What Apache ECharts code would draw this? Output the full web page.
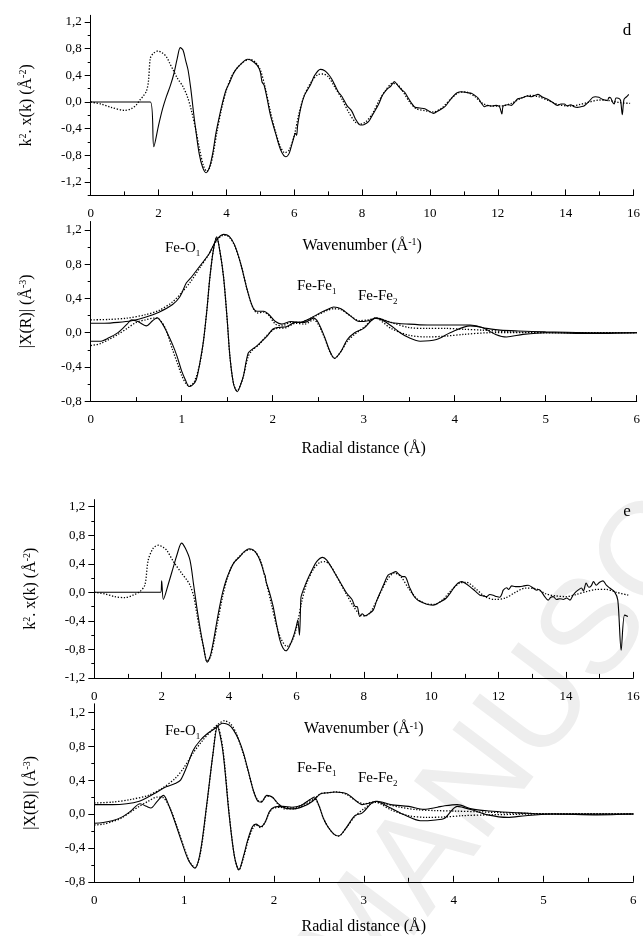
<!DOCTYPE html>
<html><head><meta charset="utf-8">
<script src="https://cdn.jsdelivr.net/npm/echarts@6/dist/echarts.min.js"></script>
<style>html,body{margin:0;padding:0;background:#fff}#c{width:643px;height:936px}</style>
</head><body><div id="c"></div>
<script>
// ---------- panel d : k-space ----------
const kD_exp = [[0,0],[1.76,0],[1.86,-0.67],[2.0,-0.35],[2.12,-0.1],[2.23,0.08],[2.35,0.25],[2.45,0.42],[2.55,0.65],[2.64,0.815],[2.72,0.78],[2.8,0.62],[2.87,0.48],[2.95,0.2],[3.03,-0.15],[3.11,-0.47],[3.2,-0.78],[3.3,-0.98],[3.4,-1.06],[3.5,-0.98],[3.6,-0.76],[3.69,-0.47],[3.8,-0.2],[3.9,0.02],[3.99,0.18],[4.1,0.3],[4.2,0.42],[4.3,0.5],[4.45,0.58],[4.62,0.64],[4.75,0.62],[4.91,0.55],[5.0,0.45],[5.05,0.3],[5.11,0.255],[5.2,0.05],[5.3,-0.2],[5.45,-0.47],[5.6,-0.72],[5.75,-0.82],[5.85,-0.77],[5.95,-0.6],[6.04,-0.47],[6.07,-0.5],[6.1,-0.35],[6.2,-0.07],[6.3,0.1],[6.48,0.26],[6.6,0.4],[6.77,0.49],[6.9,0.47],[7.0,0.42],[7.1,0.35],[7.2,0.25],[7.3,0.15],[7.41,0.08],[7.55,-0.05],[7.7,-0.14],[7.8,-0.25],[7.95,-0.345],[8.05,-0.34],[8.19,-0.295],[8.3,-0.2],[8.49,-0.03],[8.6,0.1],[8.73,0.19],[8.85,0.24],[8.95,0.305],[9.05,0.25],[9.17,0.18],[9.25,0.15],[9.36,0.06],[9.46,-0.02],[9.56,-0.08],[9.7,-0.09],[9.85,-0.1],[9.95,-0.13],[10.1,-0.17],[10.25,-0.13],[10.44,-0.07],[10.55,0.0],[10.69,0.09],[10.8,0.14],[10.93,0.155],[11.1,0.14],[11.22,0.13],[11.32,0.1],[11.42,0.06],[11.52,-0.02],[11.61,-0.07],[11.7,-0.05],[11.81,-0.06],[11.95,-0.05],[12.05,-0.07],[12.12,-0.18],[12.16,-0.06],[12.3,-0.04],[12.4,-0.05],[12.5,0.0],[12.59,0.05],[12.7,0.06],[12.88,0.09],[13.0,0.08],[13.1,0.1],[13.18,0.115],[13.3,0.08],[13.47,0.04],[13.6,0.0],[13.76,-0.05],[13.86,-0.03],[13.96,-0.03],[14.05,-0.06],[14.15,-0.04],[14.25,-0.07],[14.35,-0.08],[14.45,-0.07],[14.54,-0.06],[14.69,0.01],[14.8,0.07],[14.88,0.08],[14.98,0.07],[15.08,0.04],[15.15,0.03],[15.23,0.02],[15.28,0.07],[15.33,0.06],[15.38,0.0],[15.43,-0.03],[15.48,0.06],[15.52,0.06],[15.58,0.05],[15.62,0.02],[15.67,-0.19],[15.72,0.04],[15.8,0.08],[15.86,0.115]];
const kD_fit = [[0,0],[0.3,-0.03],[0.6,-0.08],[1.0,-0.125],[1.2,-0.1],[1.35,-0.04],[1.45,0.03],[1.55,0.09],[1.64,0.16],[1.7,0.3],[1.76,0.66],[1.85,0.73],[1.98,0.765],[2.1,0.74],[2.23,0.68],[2.33,0.58],[2.43,0.48],[2.55,0.36],[2.72,0.23],[2.85,0.08],[2.96,-0.11],[3.1,-0.42],[3.21,-0.71],[3.32,-0.95],[3.42,-1.04],[3.52,-0.97],[3.62,-0.75],[3.72,-0.45],[3.85,-0.12],[4.0,0.18],[4.15,0.38],[4.3,0.5],[4.5,0.6],[4.7,0.64],[4.85,0.6],[5.0,0.48],[5.15,0.2],[5.3,-0.15],[5.45,-0.45],[5.6,-0.68],[5.72,-0.76],[5.85,-0.72],[6.0,-0.5],[6.15,-0.15],[6.3,0.1],[6.5,0.3],[6.7,0.41],[6.85,0.42],[7.0,0.38],[7.2,0.22],[7.4,0.05],[7.6,-0.15],[7.8,-0.3],[7.95,-0.33],[8.1,-0.3],[8.3,-0.18],[8.5,0.02],[8.7,0.18],[8.9,0.28],[9.05,0.26],[9.2,0.16],[9.4,0.0],[9.6,-0.1],[9.85,-0.13],[10.1,-0.15],[10.35,-0.09],[10.6,0.04],[10.85,0.14],[11.05,0.15],[11.3,0.09],[11.55,-0.02],[11.8,-0.06],[12.1,-0.06],[12.4,-0.02],[12.7,0.06],[12.95,0.1],[13.2,0.08],[13.5,0.02],[13.8,-0.04],[14.1,-0.06],[14.4,-0.04],[14.7,0.0],[15.0,0.03],[15.3,0.02],[15.6,-0.01],[15.9,-0.02]];
// ---------- panel d : R-space ----------
const rD_magExp = [[0,0.11],[0.15,0.11],[0.3,0.12],[0.45,0.14],[0.6,0.18],[0.75,0.24],[0.9,0.33],[0.98,0.42],[1.05,0.58],[1.1,0.64],[1.2,0.78],[1.3,0.92],[1.38,1.08],[1.46,1.15],[1.52,1.13],[1.58,1.03],[1.65,0.8],[1.72,0.5],[1.78,0.3],[1.83,0.25],[1.9,0.25],[1.96,0.21],[2.03,0.13],[2.1,0.1],[2.2,0.13],[2.3,0.12],[2.4,0.16],[2.5,0.22],[2.6,0.27],[2.67,0.3],[2.75,0.28],[2.85,0.2],[2.95,0.13],[3.05,0.14],[3.14,0.17],[3.3,0.12],[3.5,0.1],[3.7,0.09],[3.9,0.09],[4.05,0.09],[4.17,0.09],[4.35,0.05],[4.5,0.03],[4.7,0.02],[5.0,0.01],[5.5,0.0],[6.0,0.0]];
const rD_magFit = [[0,0.15],[0.2,0.155],[0.4,0.17],[0.6,0.21],[0.75,0.26],[0.9,0.36],[1.0,0.47],[1.1,0.6],[1.2,0.76],[1.3,0.92],[1.38,1.07],[1.46,1.14],[1.52,1.12],[1.58,1.02],[1.65,0.8],[1.72,0.5],[1.78,0.3],[1.83,0.23],[1.9,0.24],[1.96,0.2],[2.03,0.1],[2.1,0.08],[2.2,0.12],[2.3,0.12],[2.4,0.16],[2.5,0.21],[2.6,0.26],[2.67,0.28],[2.75,0.27],[2.85,0.2],[2.95,0.14],[3.05,0.15],[3.14,0.17],[3.3,0.12],[3.5,0.06],[3.7,0.05],[3.9,0.05],[4.1,0.04],[4.3,0.03],[4.6,0.01],[5.0,0.0],[6.0,0.0]];
const rD_imExp = [[0,-0.1],[0.1,-0.1],[0.2,-0.06],[0.3,0.0],[0.4,0.1],[0.45,0.15],[0.52,0.13],[0.61,0.08],[0.68,0.14],[0.73,0.175],[0.79,0.1],[0.84,0.0],[0.9,-0.14],[0.95,-0.28],[1.0,-0.45],[1.04,-0.55],[1.08,-0.63],[1.12,-0.61],[1.16,-0.55],[1.2,-0.35],[1.24,-0.09],[1.28,0.3],[1.31,0.65],[1.35,0.98],[1.385,1.12],[1.42,0.95],[1.46,0.65],[1.5,0.15],[1.53,-0.28],[1.57,-0.6],[1.61,-0.69],[1.65,-0.6],[1.68,-0.5],[1.73,-0.24],[1.78,-0.19],[1.82,-0.16],[1.88,-0.1],[1.93,-0.05],[2.0,0.04],[2.05,0.06],[2.15,0.07],[2.25,0.12],[2.35,0.12],[2.45,0.17],[2.5,0.12],[2.57,-0.05],[2.63,-0.22],[2.68,-0.3],[2.75,-0.22],[2.82,-0.08],[2.9,0.0],[3.0,0.05],[3.13,0.17],[3.25,0.12],[3.4,0.0],[3.5,-0.06],[3.62,-0.1],[3.8,-0.08],[3.95,0.0],[4.17,0.08],[4.3,0.06],[4.45,-0.02],[4.57,-0.05],[4.75,-0.02],[5.0,0.0],[5.5,-0.01],[6.0,0.0]];
const rD_imFit = [[0,-0.15],[0.1,-0.13],[0.2,-0.08],[0.3,-0.02],[0.4,0.05],[0.5,0.12],[0.6,0.15],[0.7,0.17],[0.75,0.16],[0.82,0.05],[0.9,-0.2],[0.96,-0.38],[1.0,-0.5],[1.05,-0.6],[1.09,-0.62],[1.14,-0.57],[1.2,-0.36],[1.24,-0.09],[1.28,0.3],[1.31,0.65],[1.35,0.98],[1.385,1.11],[1.42,0.95],[1.46,0.65],[1.5,0.15],[1.53,-0.28],[1.57,-0.6],[1.61,-0.68],[1.65,-0.6],[1.68,-0.5],[1.73,-0.28],[1.78,-0.2],[1.85,-0.14],[1.92,-0.05],[2.0,0.03],[2.05,0.05],[2.15,0.06],[2.25,0.11],[2.35,0.1],[2.45,0.15],[2.5,0.1],[2.57,-0.06],[2.63,-0.23],[2.68,-0.3],[2.75,-0.22],[2.82,-0.1],[2.9,-0.02],[3.0,0.06],[3.13,0.17],[3.3,0.05],[3.5,-0.03],[3.7,-0.05],[3.9,-0.04],[4.1,-0.02],[4.4,0.0],[5.0,0.0],[6.0,0.0]];
// ---------- panel e : k-space ----------
const kE_exp = [[0,0],[1.97,0],[2.0,0.16],[2.05,-0.1],[2.2,0.12],[2.35,0.36],[2.45,0.52],[2.59,0.69],[2.7,0.62],[2.84,0.45],[2.95,0.1],[3.04,-0.2],[3.14,-0.5],[3.24,-0.76],[3.35,-0.98],[3.45,-0.88],[3.55,-0.65],[3.63,-0.43],[3.72,-0.2],[3.81,0.0],[3.92,0.18],[4.03,0.31],[4.15,0.42],[4.32,0.5],[4.45,0.57],[4.6,0.61],[4.75,0.58],[4.87,0.5],[4.97,0.38],[5.05,0.25],[5.07,0.24],[5.1,0.15],[5.2,0.0],[5.31,-0.2],[5.41,-0.45],[5.51,-0.67],[5.6,-0.78],[5.69,-0.82],[5.8,-0.75],[5.91,-0.62],[6.0,-0.47],[6.04,-0.39],[6.09,-0.6],[6.13,-0.1],[6.15,-0.04],[6.3,0.15],[6.46,0.31],[6.6,0.43],[6.78,0.49],[6.9,0.45],[7.09,0.31],[7.3,0.14],[7.49,-0.01],[7.65,-0.1],[7.75,-0.2],[7.8,-0.2],[7.88,-0.34],[7.95,-0.3],[8.03,-0.33],[8.15,-0.3],[8.28,-0.25],[8.38,-0.12],[8.48,-0.01],[8.6,0.12],[8.72,0.24],[8.85,0.27],[8.95,0.29],[9.05,0.25],[9.15,0.22],[9.22,0.22],[9.35,0.08],[9.47,-0.04],[9.6,-0.11],[9.76,-0.145],[9.9,-0.17],[10.06,-0.18],[10.25,-0.14],[10.45,-0.08],[10.58,0.0],[10.7,0.08],[10.8,0.13],[10.9,0.15],[11.0,0.13],[11.15,0.08],[11.3,0.02],[11.45,-0.04],[11.55,-0.05],[11.64,-0.06],[11.74,-0.03],[11.84,-0.04],[11.94,-0.06],[12.04,-0.07],[12.1,-0.02],[12.14,0.03],[12.24,0.065],[12.3,0.04],[12.39,0.09],[12.5,0.08],[12.63,0.08],[12.75,0.09],[12.88,0.1],[13.0,0.07],[13.13,0.03],[13.2,0.04],[13.27,0.01],[13.37,-0.06],[13.47,-0.11],[13.55,-0.07],[13.62,-0.06],[13.72,-0.1],[13.82,-0.09],[13.92,-0.1],[14.02,-0.08],[14.12,-0.11],[14.2,-0.05],[14.26,-0.01],[14.36,0.03],[14.46,0.06],[14.52,0.02],[14.6,0.13],[14.68,0.07],[14.75,0.09],[14.82,0.15],[14.9,0.1],[15.0,0.14],[15.1,0.16],[15.2,0.1],[15.3,0.06],[15.44,0.01],[15.54,-0.11],[15.64,-0.81],[15.74,-0.32],[15.84,-0.34]];
const kE_fit = [[0,0],[0.3,-0.02],[0.6,-0.06],[0.91,-0.075],[1.15,-0.04],[1.35,0.01],[1.5,0.1],[1.6,0.45],[1.75,0.62],[1.9,0.66],[2.05,0.63],[2.15,0.59],[2.35,0.43],[2.59,0.27],[2.75,0.17],[2.84,0.1],[2.95,-0.05],[3.04,-0.29],[3.14,-0.55],[3.24,-0.76],[3.35,-0.97],[3.45,-0.9],[3.55,-0.7],[3.65,-0.45],[3.8,-0.08],[3.95,0.2],[4.1,0.38],[4.3,0.5],[4.5,0.58],[4.65,0.6],[4.8,0.56],[4.95,0.42],[5.1,0.15],[5.25,-0.15],[5.4,-0.45],[5.55,-0.66],[5.72,-0.76],[5.85,-0.7],[6.0,-0.5],[6.15,-0.15],[6.3,0.12],[6.5,0.32],[6.7,0.42],[6.85,0.43],[7.0,0.38],[7.2,0.22],[7.45,0.0],[7.7,-0.2],[7.9,-0.32],[8.05,-0.33],[8.2,-0.28],[8.45,-0.05],[8.7,0.18],[8.9,0.27],[9.1,0.22],[9.35,0.04],[9.6,-0.1],[9.85,-0.16],[10.1,-0.17],[10.35,-0.1],[10.6,0.03],[10.85,0.13],[11.05,0.14],[11.3,0.06],[11.6,-0.06],[11.9,-0.1],[12.2,-0.08],[12.5,0.0],[12.8,0.06],[13.1,0.05],[13.4,-0.02],[13.7,-0.05],[14.0,-0.06],[14.3,-0.03],[14.6,0.01],[14.9,0.04],[15.2,0.04],[15.5,0.0],[15.85,-0.04]];
// ---------- panel e : R-space ----------
const rE_magExp = [[0,0.11],[0.2,0.11],[0.36,0.12],[0.5,0.15],[0.6,0.2],[0.7,0.26],[0.8,0.32],[0.9,0.36],[0.96,0.4],[1.03,0.56],[1.1,0.75],[1.18,0.87],[1.26,0.95],[1.33,1.0],[1.43,1.07],[1.5,1.05],[1.55,0.99],[1.61,0.87],[1.66,0.72],[1.72,0.48],[1.77,0.28],[1.82,0.15],[1.86,0.14],[1.92,0.22],[1.98,0.2],[2.05,0.12],[2.12,0.07],[2.22,0.06],[2.33,0.09],[2.43,0.15],[2.52,0.24],[2.6,0.25],[2.67,0.26],[2.81,0.24],[2.92,0.15],[2.98,0.11],[3.07,0.13],[3.15,0.15],[3.3,0.11],[3.5,0.09],[3.67,0.055],[3.82,0.08],[3.89,0.095],[4.04,0.11],[4.2,0.06],[4.4,0.035],[4.6,0.02],[4.8,0.01],[5.0,0.0],[5.5,0.0],[6.0,0.0]];
const rE_magFit = [[0,0.13],[0.2,0.14],[0.4,0.17],[0.6,0.22],[0.75,0.3],[0.9,0.42],[1.0,0.55],[1.1,0.72],[1.2,0.86],[1.3,0.98],[1.38,1.06],[1.45,1.1],[1.52,1.06],[1.58,0.95],[1.65,0.74],[1.72,0.48],[1.77,0.28],[1.82,0.16],[1.86,0.15],[1.92,0.21],[1.98,0.2],[2.05,0.11],[2.12,0.06],[2.22,0.06],[2.33,0.1],[2.43,0.16],[2.52,0.24],[2.6,0.25],[2.7,0.26],[2.81,0.23],[2.92,0.15],[3.0,0.12],[3.1,0.14],[3.2,0.13],[3.4,0.08],[3.6,0.05],[3.8,0.04],[4.0,0.035],[4.3,0.025],[4.7,0.01],[5.2,0.0],[6.0,0.0]];
const rE_imExp = [[0,-0.11],[0.1,-0.1],[0.2,-0.08],[0.3,-0.04],[0.4,0.03],[0.51,0.12],[0.58,0.09],[0.63,0.07],[0.7,0.15],[0.77,0.22],[0.83,0.1],[0.9,-0.1],[0.97,-0.32],[1.05,-0.55],[1.12,-0.64],[1.18,-0.45],[1.25,0.1],[1.32,0.7],[1.37,1.03],[1.43,0.75],[1.5,0.0],[1.56,-0.5],[1.61,-0.66],[1.66,-0.5],[1.71,-0.3],[1.76,-0.15],[1.8,-0.12],[1.85,-0.15],[1.9,-0.1],[1.95,0.03],[2.0,0.08],[2.1,0.09],[2.2,0.08],[2.3,0.1],[2.4,0.17],[2.45,0.2],[2.5,0.1],[2.55,-0.05],[2.6,-0.15],[2.67,-0.24],[2.72,-0.26],[2.8,-0.17],[2.9,-0.02],[2.98,0.01],[3.13,0.15],[3.3,0.07],[3.45,-0.01],[3.63,-0.08],[3.8,-0.07],[3.9,-0.05],[4.04,0.09],[4.2,0.05],[4.38,-0.01],[4.6,-0.04],[4.8,-0.02],[5.1,0.0],[5.6,-0.01],[6.0,0.0]];
const rE_imFit = [[0,-0.13],[0.1,-0.12],[0.2,-0.09],[0.3,-0.05],[0.4,0.02],[0.5,0.09],[0.6,0.15],[0.7,0.2],[0.77,0.19],[0.85,0.05],[0.92,-0.15],[1.0,-0.4],[1.06,-0.56],[1.12,-0.63],[1.18,-0.47],[1.25,0.08],[1.32,0.7],[1.37,1.05],[1.43,0.78],[1.5,0.02],[1.56,-0.5],[1.61,-0.66],[1.66,-0.52],[1.71,-0.32],[1.76,-0.18],[1.8,-0.13],[1.85,-0.16],[1.9,-0.1],[1.95,0.02],[2.0,0.07],[2.1,0.08],[2.2,0.07],[2.3,0.1],[2.4,0.16],[2.45,0.18],[2.5,0.1],[2.55,-0.05],[2.6,-0.15],[2.67,-0.24],[2.72,-0.26],[2.8,-0.17],[2.9,-0.03],[3.0,0.06],[3.13,0.14],[3.3,0.05],[3.5,-0.02],[3.7,-0.04],[3.9,-0.035],[4.1,-0.02],[4.4,-0.01],[5.0,0.0],[6.0,0.0]];

// ---------- tick values ----------
const yTicksKd = [-1.2,-0.8,-0.4,0,0.4,0.8,1.2];
const yMinorKd = [-1.4,-1.0,-0.6,-0.2,0.2,0.6,1.0];
const yTicksKe = [-1.2,-0.8,-0.4,0,0.4,0.8,1.2];
const yMinorKe = [-1.0,-0.6,-0.2,0.2,0.6,1.0];
const yTicksR = [-0.8,-0.4,0,0.4,0.8,1.2];
const yMinorR = [-0.6,-0.2,0.2,0.6,1.0];

const FONT = 'Liberation Serif';
const fmt = v => (Math.abs(v) < 1e-9 ? '0,0' : v.toFixed(1).replace('.', ','));
const richBase = {
  n: {fontFamily: FONT, fontSize: 16, color: '#000'},
  s: {fontFamily: FONT, fontSize: 10, color: '#000', verticalAlign: 'top'},
  b: {fontFamily: FONT, fontSize: 10, color: '#000', verticalAlign: 'bottom'}
};

const grids = [
  {left: 90.7, top: 15.3, width: 546, height: 180.1},
  {left: 90.7, top: 221.5, width: 546, height: 179.6},
  {left: 94.3, top: 499.6, width: 539, height: 178.3},
  {left: 94.3, top: 703.8, width: 539, height: 178}
];
const yRanges = [[-1.4, 1.3], [-0.8, 1.3], [-1.2, 1.3], [-0.8, 1.3]];
const yMajor = [yTicksKd, yTicksR, yTicksKe, yTicksR];
const yMinor = [yMinorKd, yMinorR, yMinorKe, yMinorR];
const yNames = ['{n|k}{s|2}{n|. x(k) (Å}{s|-2}{n|)}', '{n||X(R)| (Å}{s|-3}{n|)}',
                '{n|k}{s|2}{n|. x(k) (Å}{s|-2}{n|)}', '{n||X(R)| (Å}{s|-3}{n|)}'];
const xNames = ['{n|Wavenumber (Å}{s|-1}{n|)}', '{n|Radial distance (Å)}',
                '{n|Wavenumber (Å}{s|-1}{n|)}', '{n|Radial distance (Å)}'];
const xMax = [16, 6, 16, 6];
const xInt = [2, 1, 2, 1];
const xGap = [42, 40, 43, 37];

const xAxis = [], yAxis = [];
for (let i = 0; i < 4; i++) {
  xAxis.push({
    type: 'value', gridIndex: i, min: 0, max: xMax[i], interval: xInt[i],
    splitLine: {show: false},
    axisLine: {show: true, onZero: false, lineStyle: {color: '#000', width: 1}},
    axisTick: {show: true, inside: true, length: 6, lineStyle: {color: '#000'}},
    minorTick: {show: true, splitNumber: 2, length: 4, lineStyle: {color: '#000'}},
    axisLabel: {color: '#000', fontFamily: FONT, fontSize: 13, margin: 12},
    name: xNames[i], nameLocation: 'middle', nameGap: xGap[i],
    nameTextStyle: {fontFamily: FONT, fontSize: 16, color: '#000', rich: richBase}
  });
  yAxis.push({
    type: 'value', gridIndex: i, min: yRanges[i][0], max: yRanges[i][1], position: 'left',
    splitLine: {show: false},
    axisLine: {show: true, onZero: false, lineStyle: {color: '#000', width: 1}},
    axisTick: {show: true, inside: false, length: 6, customValues: yMajor[i], lineStyle: {color: '#000'}},
    axisLabel: {color: '#000', fontFamily: FONT, fontSize: 13, margin: 9, customValues: yMajor[i], formatter: fmt},
    name: yNames[i], nameLocation: 'middle', nameGap: 56, nameRotate: 90,
    nameTextStyle: {fontFamily: FONT, fontSize: 16, color: '#000', rich: richBase}
  });
}
for (let i = 0; i < 4; i++) {
  yAxis.push({
    type: 'value', gridIndex: i, min: yRanges[i][0], max: yRanges[i][1], position: 'left', offset: 0,
    splitLine: {show: false},
    axisLine: {show: false, onZero: false},
    axisTick: {show: true, inside: false, length: 3, customValues: yMinor[i], lineStyle: {color: '#000'}},
    axisLabel: {show: false, customValues: yMinor[i]}
  });
}

function line(data, gi, dotted) {
  return {
    type: 'line', data: data, xAxisIndex: gi, yAxisIndex: gi,
    showSymbol: false, symbol: 'none', smooth: 0.3, silent: true,
    lineStyle: {color: '#000', width: dotted ? 1.3 : 1.1, type: dotted ? [1.3, 1.7] : 'solid'},
    z: dotted ? 3 : 2
  };
}

const series = [
  line(kD_exp, 0, false), line(kD_fit, 0, true),
  line(rD_magExp, 1, false), line(rD_imExp, 1, false), line(rD_magFit, 1, true), line(rD_imFit, 1, true),
  line(kE_exp, 2, false), line(kE_fit, 2, true),
  line(rE_magExp, 3, false), line(rE_imExp, 3, false), line(rE_magFit, 3, true), line(rE_imFit, 3, true)
];

const annRich = {
  n: {fontFamily: FONT, fontSize: 15, fill: '#000', color: '#000', lineHeight: 20},
  b: {fontFamily: FONT, fontSize: 9, fill: '#000', color: '#000', verticalAlign: 'bottom', lineHeight: 9}
};
function ann(x, y, text) {
  return {type: 'text', x: x, y: y, z: 10,
    style: {text: text, rich: annRich, fill: '#000', fontFamily: FONT, fontSize: 15, align: 'left', verticalAlign: 'middle'}};
}
const graphic = [
  {type: 'text', x: 330, y: 985, z: -10, rotation: 53 * Math.PI / 180, silent: true,
   style: {text: 'MANUSCRIPT', fill: '#eeeeee', fontFamily: 'Liberation Sans', fontSize: 135, align: 'left', verticalAlign: 'middle'}},
  ann(165, 248, '{n|Fe-O}{b|1}'), ann(297, 286, '{n|Fe-Fe}{b|1}'), ann(358, 296, '{n|Fe-Fe}{b|2}'),
  ann(165, 731, '{n|Fe-O}{b|1}'), ann(297, 768, '{n|Fe-Fe}{b|1}'), ann(358, 778, '{n|Fe-Fe}{b|2}'),
  {type: 'text', x: 627, y: 31, z: 10, style: {text: 'd', fill: '#000', fontFamily: FONT, fontSize: 17, align: 'center', verticalAlign: 'middle'}},
  {type: 'text', x: 627, y: 512, z: 10, style: {text: 'e', fill: '#000', fontFamily: FONT, fontSize: 17, align: 'center', verticalAlign: 'middle'}}
];

const chart = echarts.init(document.getElementById('c'), null, {renderer: 'canvas'});
chart.setOption({
  backgroundColor: '#fff', animation: false,
  grid: grids, xAxis: xAxis, yAxis: yAxis, series: series, graphic: graphic
});
</script></body></html>
